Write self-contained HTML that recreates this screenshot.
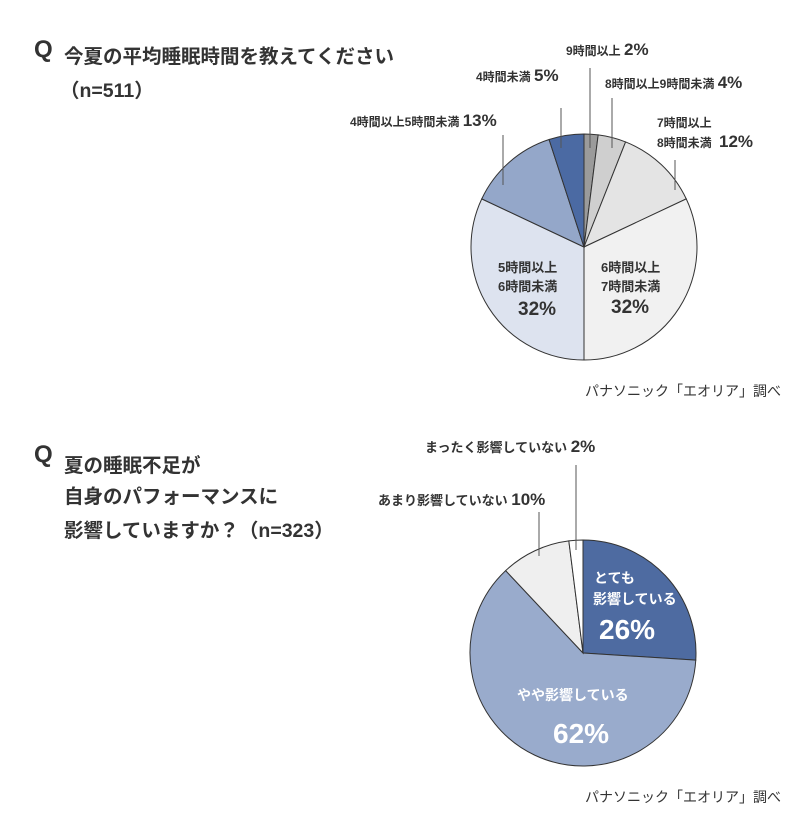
<!DOCTYPE html>
<html><head><meta charset="utf-8">
<style>
body{margin:0;background:#fff;width:800px;height:812px;overflow:hidden;font-family:"Liberation Sans","Noto Sans CJK JP",sans-serif;}
svg text{font-family:"Liberation Sans","Noto Sans CJK JP",sans-serif;}
</style></head>
<body>
<svg id="chart" width="800" height="812">
<g>
<text x="34" y="57" font-size="24" font-weight="bold" fill="#333">Q</text>
<text x="64" y="63" font-size="19.5" font-weight="bold" fill="#333">今夏の平均睡眠時間を教えてください</text>
<text x="60" y="97" font-size="19.5" font-weight="bold" fill="#333">（n=511）</text>
</g>
<g>
<text x="34" y="462" font-size="24" font-weight="bold" fill="#333">Q</text>
<text x="64" y="472" font-size="19.5" font-weight="bold" fill="#333">夏の睡眠不足が</text>
<text x="64" y="503" font-size="19.5" font-weight="bold" fill="#333">自身のパフォーマンスに</text>
<text x="64" y="537" font-size="19.5" font-weight="bold" fill="#333">影響していますか？（n=323）</text>
</g>
<text x="585" y="396" font-size="14" fill="#333">パナソニック「エオリア」調べ</text>
<text x="585" y="802" font-size="14" fill="#333">パナソニック「エオリア」調べ</text>
<g id="pie1"></g>
<g id="pie2"></g>
<g font-weight="bold" fill="#333">
<text x="566" y="55" font-size="12">9時間以上 <tspan font-size="17">2%</tspan></text>
<line x1="590" y1="68" x2="590" y2="148" stroke="#555"/>
<text x="605" y="88" font-size="12">8時間以上9時間未満 <tspan font-size="17">4%</tspan></text>
<line x1="612" y1="98" x2="612" y2="148" stroke="#555"/>
<text x="657" y="127" font-size="12">7時間以上</text>
<text x="657" y="147" font-size="12">8時間未満 <tspan font-size="17" dx="4">12%</tspan></text>
<line x1="675" y1="160" x2="675" y2="190" stroke="#555"/>
<text x="476" y="81" font-size="12">4時間未満 <tspan font-size="17">5%</tspan></text>
<line x1="561" y1="108" x2="561" y2="148" stroke="#555"/>
<text x="350" y="126" font-size="12">4時間以上5時間未満 <tspan font-size="17">13%</tspan></text>
<line x1="503" y1="135" x2="503" y2="185" stroke="#555"/>
<text x="498" y="272" font-size="13">5時間以上</text>
<text x="498" y="291" font-size="13">6時間未満</text>
<text x="518" y="315" font-size="19">32%</text>
<text x="601" y="272" font-size="13">6時間以上</text>
<text x="601" y="291" font-size="13">7時間未満</text>
<text x="611" y="313" font-size="19">32%</text>
</g>
<g font-weight="bold" fill="#333">
<text x="425" y="452" font-size="13">まったく影響していない <tspan font-size="17">2%</tspan></text>
<line x1="576" y1="465" x2="576" y2="550" stroke="#555"/>
<text x="378" y="505" font-size="13">あまり影響していない <tspan font-size="17">10%</tspan></text>
<line x1="539" y1="512" x2="539" y2="556" stroke="#555"/>
<text x="594" y="583" font-size="14" fill="#fff">とても</text>
<text x="593" y="604" font-size="14" fill="#fff">影響している</text>
<text x="599" y="639" font-size="28" fill="#fff">26%</text>
<text x="517" y="700" font-size="14" fill="#fff">やや影響している</text>
<text x="553" y="743" font-size="28" fill="#fff">62%</text>
</g>
</svg>
<script>
const pie1Categories = ["9時間以上","8時間以上9時間未満","7時間以上8時間未満","6時間以上7時間未満","5時間以上6時間未満","4時間以上5時間未満","4時間未満"];
const pie1Values = [2,4,12,32,32,13,5];
const pie1Colors = ["#9b9b9b","#cfcfcf","#e4e4e4","#f1f1f1","#dde3ef","#94a7c9","#4b6aa3"];
const pie2Categories = ["とても影響している","やや影響している","あまり影響していない","まったく影響していない"];
const pie2Values = [26,62,10,2];
const pie2Colors = ["#4e6ba1","#99abcc","#efefef","#ffffff"];
const NS="http://www.w3.org/2000/svg";
function drawPie(gid,cx,cy,r,vals,cols,cats){
  const g=document.getElementById(gid);
  
  
  const total=vals.reduce((a,b)=>a+b,0);
  let a=0;
  vals.forEach((v,i)=>{
    const a0=a/total*2*Math.PI, a1=(a+v)/total*2*Math.PI; a+=v;
    const x0=cx+r*Math.sin(a0),y0=cy-r*Math.cos(a0),x1=cx+r*Math.sin(a1),y1=cy-r*Math.cos(a1);
    const p=document.createElementNS(NS,'path');
    p.setAttribute('d',`M${cx},${cy} L${x0},${y0} A${r},${r} 0 ${a1-a0>Math.PI?1:0} 1 ${x1},${y1} Z`);
    p.setAttribute('fill',cols[i]);p.setAttribute('stroke','#333');p.setAttribute('stroke-width','1');
    
    
    const t=document.createElementNS(NS,'title');t.textContent=cats[i]+' '+v+'%';p.appendChild(t);
    g.appendChild(p);
  });
}
drawPie('pie1',584,247,113,pie1Values,pie1Colors,pie1Categories);
drawPie('pie2',583,653,113,pie2Values,pie2Colors,pie2Categories);
</script>
</body></html>
